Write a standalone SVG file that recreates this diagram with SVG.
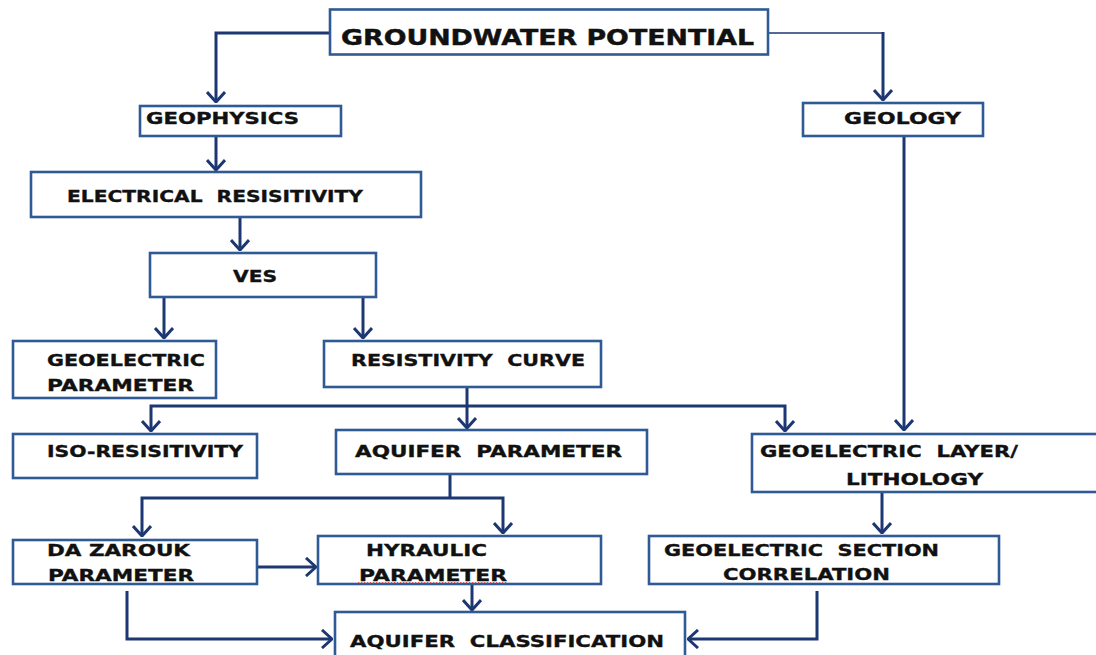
<svg xmlns="http://www.w3.org/2000/svg" width="1096" height="655" viewBox="0 0 1096 655">
<style>
.box{fill:#fff;stroke:#2F5A94;stroke-width:2.6}
.t{font-family:"DejaVu Sans","Liberation Sans",sans-serif;font-weight:bold;font-size:16.5px;fill:#111;stroke:#111;stroke-width:0.35}
.big{font-size:22px;stroke-width:0.45}
.c{fill:none;stroke:#1C3772;stroke-width:3}
.thin{stroke-width:1.6}
</style>
<defs>
<marker id="ah" markerUnits="userSpaceOnUse" viewBox="0 0 12 20" refX="11" refY="10" markerWidth="12" markerHeight="20" orient="auto">
<path d="M1,1 L11,10 L1,19" fill="none" stroke="#1C3772" stroke-width="3"/>
</marker>
</defs>
<rect width="1096" height="655" fill="#fff"/>
<g id="connectors">
<path class="c" d="M330,33 H216 V102" marker-end="url(#ah)"/>
<path class="c thin" d="M768,33 H883"/>
<path class="c" d="M883,32 V100" marker-end="url(#ah)"/>
<path class="c" d="M216,136 V170" marker-end="url(#ah)"/>
<path class="c" d="M240,217 V250" marker-end="url(#ah)"/>
<path class="c" d="M164,297 V338" marker-end="url(#ah)"/>
<path class="c" d="M363,297 V338" marker-end="url(#ah)"/>
<path class="c" d="M467,387 V428" marker-end="url(#ah)"/>
<path class="c" d="M467,406 H151 V431" marker-end="url(#ah)"/>
<path class="c" d="M467,406 H785 V431" marker-end="url(#ah)"/>
<path class="c" d="M904,136 V430" marker-end="url(#ah)"/>
<path class="c" d="M882,492 V533" marker-end="url(#ah)"/>
<path class="c" d="M450,474 V498"/>
<path class="c" d="M450,498 H142 V536" marker-end="url(#ah)"/>
<path class="c" d="M450,498 H503 V533" marker-end="url(#ah)"/>
<path class="c" d="M257,567 H316" marker-end="url(#ah)"/>
<path class="c" d="M472,584 V610" marker-end="url(#ah)"/>
<path class="c" d="M127,591 V639 H332" marker-end="url(#ah)"/>
<path class="c" d="M817,591 V639 H688" marker-end="url(#ah)"/>
</g>
<g id="n-groundwater"><rect class="box" x="330" y="9.5" width="438" height="45"/><text class="t big" x="341" y="45" textLength="413" lengthAdjust="spacingAndGlyphs">GROUNDWATER POTENTIAL</text></g>
<g id="n-geophysics"><rect class="box" x="140" y="106" width="201" height="30"/><text class="t" x="146" y="124" textLength="153" lengthAdjust="spacingAndGlyphs">GEOPHYSICS</text></g>
<g id="n-geology"><rect class="box" x="803" y="103" width="180" height="33"/><text class="t" x="844" y="124" textLength="117" lengthAdjust="spacingAndGlyphs">GEOLOGY</text></g>
<g id="n-electrical"><rect class="box" x="31" y="172" width="390" height="45"/><text class="t" x="67" y="202" textLength="296" lengthAdjust="spacingAndGlyphs" xml:space="preserve">ELECTRICAL  RESISITIVITY</text></g>
<g id="n-ves"><rect class="box" x="150" y="253" width="226" height="44"/><text class="t" x="233" y="281.5" textLength="44" lengthAdjust="spacingAndGlyphs">VES</text></g>
<g id="n-geoparam"><rect class="box" x="13" y="341" width="203" height="57"/><text class="t" x="47" y="366" textLength="158" lengthAdjust="spacingAndGlyphs">GEOELECTRIC</text><text class="t" x="47" y="391" textLength="147" lengthAdjust="spacingAndGlyphs">PARAMETER</text></g>
<g id="n-rescurve"><rect class="box" x="324" y="341" width="277" height="46"/><text class="t" x="351" y="366" textLength="234" lengthAdjust="spacingAndGlyphs" xml:space="preserve">RESISTIVITY  CURVE</text></g>
<g id="n-iso"><rect class="box" x="13" y="434" width="244" height="44"/><text class="t" x="47" y="456.5" textLength="196" lengthAdjust="spacingAndGlyphs">ISO-RESISITIVITY</text></g>
<g id="n-aquiferparam"><rect class="box" x="336" y="430" width="311" height="44"/><text class="t" x="355" y="456.5" textLength="267" lengthAdjust="spacingAndGlyphs" xml:space="preserve">AQUIFER  PARAMETER</text></g>
<g id="n-geolayer"><rect class="box" x="752" y="434" width="360" height="58"/><text class="t" x="760" y="456.5" textLength="258" lengthAdjust="spacingAndGlyphs" xml:space="preserve">GEOELECTRIC  LAYER/</text><text class="t" x="846" y="485" textLength="137" lengthAdjust="spacingAndGlyphs">LITHOLOGY</text></g>
<g id="n-dazarouk"><rect class="box" x="13" y="540" width="244" height="44"/><text class="t" x="47" y="556" textLength="143" lengthAdjust="spacingAndGlyphs">DA ZAROUK</text><text class="t" x="48" y="580.5" textLength="146" lengthAdjust="spacingAndGlyphs">PARAMETER</text></g>
<g id="n-hyraulic"><rect class="box" x="318" y="536" width="283" height="48"/><text class="t" x="366" y="556" textLength="121" lengthAdjust="spacingAndGlyphs">HYRAULIC</text><text class="t" x="359" y="580.5" textLength="148" lengthAdjust="spacingAndGlyphs">PARAMETER</text><line x1="358" y1="582.6" x2="507" y2="582.6" stroke="#D9534F" stroke-width="1.2" stroke-dasharray="1.2,1.8"/></g>
<g id="n-section"><rect class="box" x="649" y="536" width="350" height="48"/><text class="t" x="664" y="556" textLength="275" lengthAdjust="spacingAndGlyphs" xml:space="preserve">GEOELECTRIC  SECTION</text><text class="t" x="723" y="580" textLength="167" lengthAdjust="spacingAndGlyphs">CORRELATION</text></g>
<g id="n-classification"><rect class="box" x="335" y="612" width="350" height="60"/><text class="t" x="350" y="646.5" textLength="314" lengthAdjust="spacingAndGlyphs" xml:space="preserve">AQUIFER  CLASSIFICATION</text></g>
</svg>
